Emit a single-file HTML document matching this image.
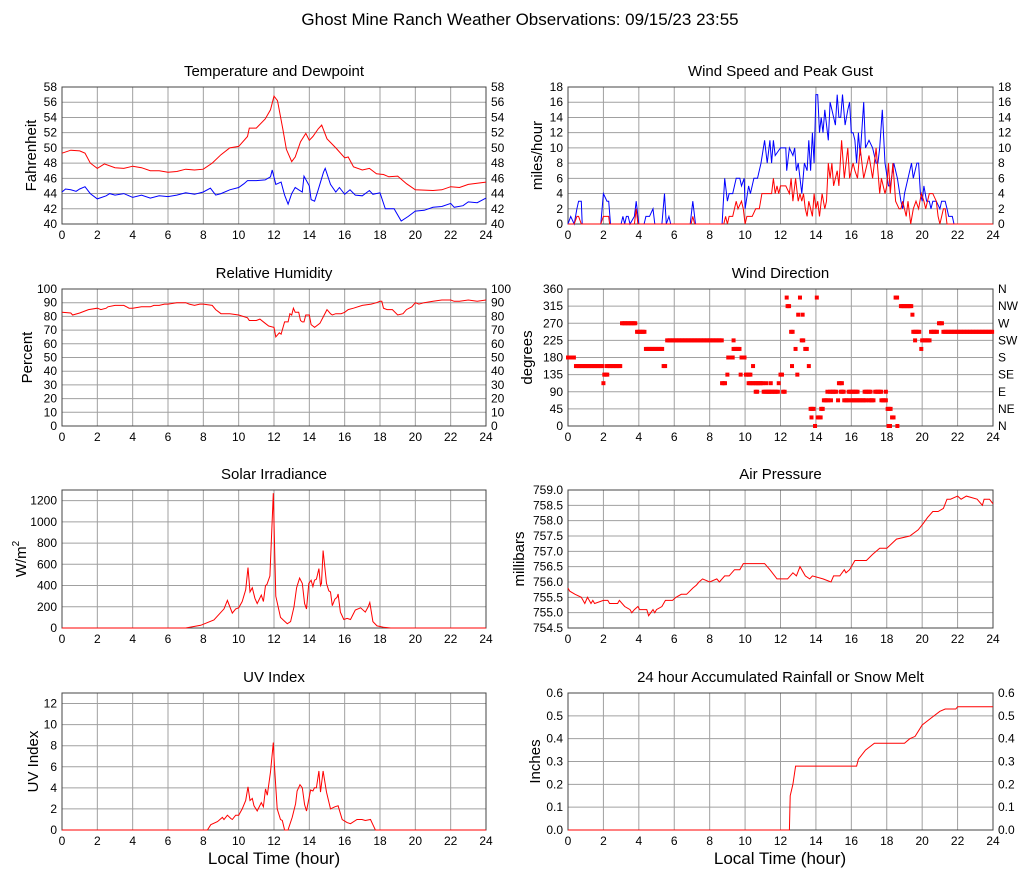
<!DOCTYPE html>
<html><head><meta charset="utf-8"><title>Ghost Mine Ranch Weather</title>
<style>
body{margin:0;background:#fff;}
svg{display:block;font-family:"Liberation Sans",sans-serif;}
</style></head>
<body>
<svg id="chart" width="1027" height="878" viewBox="0 0 1027 878" xmlns="http://www.w3.org/2000/svg">
<rect x="0" y="0" width="1027" height="878" fill="#fff"/>
<text x="520" y="25" font-size="17" text-anchor="middle" fill="#000">Ghost Mine Ranch Weather Observations: 09/15/23 23:55</text>
<text x="274" y="864" font-size="17" text-anchor="middle" fill="#000">Local Time (hour)</text>
<text x="780" y="864" font-size="17" text-anchor="middle" fill="#000">Local Time (hour)</text>
</svg>
<script>
// ---------- data ----------
const hourTicks = [0,2,4,6,8,10,12,14,16,18,20,22,24];

const tempTimes = [0,0.5,1,1.3,1.6,2,2.4,3,3.5,4,4.5,5,5.5,6,6.5,7,7.5,8,8.5,9,9.5,10,10.5,10.6,11,11.5,11.8,12,12.2,12.5,12.7,13,13.2,13.5,13.8,14,14.2,14.5,14.7,15,15.5,16,16.2,16.5,17,17.4,17.8,18.2,18.5,19,19.5,20,21,21.5,22,22.5,23,24];
const tempValues = [49.3,49.7,49.6,49.3,48.0,47.3,47.9,47.4,47.3,47.6,47.4,47.0,47.0,46.8,46.9,47.2,47.1,47.2,48.0,49.1,50.0,50.2,51.5,52.6,52.6,53.8,55.0,56.8,56.2,52.5,49.8,48.2,48.8,50.8,51.9,51.0,51.5,52.5,53.0,51.2,50.0,48.7,48.8,47.5,47.1,47.3,46.6,46.5,46.2,46.3,45.3,44.5,44.4,44.5,44.9,44.8,45.2,45.5];
const dewTimes = [0,0.2,0.5,0.8,1,1.3,1.6,2,2.5,2.7,3,3.5,4,4.5,5,5.5,6,6.5,7,7.5,8,8.4,8.7,9,9.5,10,10.3,10.5,11,11.5,11.8,11.9,12.1,12.4,12.6,12.8,13,13.2,13.4,13.6,13.7,14,14.1,14.3,14.5,14.8,14.9,15.2,15.5,15.7,16,16.3,16.6,17,17.4,17.6,18,18.3,18.8,19.2,19.6,20,20.5,21,21.5,22,22.2,22.7,23,23.5,24];
const dewValues = [44.2,44.6,44.5,44.3,44.6,44.9,44.0,43.3,43.7,44.0,43.8,44.0,43.5,43.8,43.4,43.7,43.6,43.8,44.1,43.9,44.2,44.7,43.8,44.0,44.5,44.8,45.3,45.7,45.7,45.8,46.2,47.1,45.2,45.5,43.8,42.6,44.0,44.8,44.5,44.2,46.3,45.0,43.2,43.0,44.5,46.8,47.3,45.2,44.2,44.8,43.9,44.5,43.8,43.7,44.4,43.9,44.1,42.0,42.0,40.4,41.0,41.7,41.8,42.2,42.3,42.7,42.2,42.4,42.9,42.8,43.4];

const gustTimes = [0,0.15,0.35,0.5,0.6,0.75,0.8,1.85,2,2.2,2.3,2.4,3,3.1,3.2,3.3,3.4,3.5,3.75,3.85,4,4.3,4.4,4.6,4.8,4.9,5.3,5.45,5.55,5.7,5.8,6.9,7.05,7.2,8.7,8.85,9.0,9.1,9.3,9.5,9.7,9.8,9.95,10,10.2,10.3,10.5,10.7,10.9,11.1,11.25,11.4,11.5,11.6,11.7,12,12.3,12.35,12.5,12.7,12.8,12.9,13.0,13.1,13.2,13.35,13.5,13.6,13.7,13.8,13.9,14.0,14.1,14.2,14.3,14.4,14.5,14.7,14.8,14.9,15.1,15.2,15.3,15.4,15.5,15.65,15.8,15.9,16,16.1,16.2,16.3,16.4,16.5,16.7,16.8,17,17.2,17.4,17.5,17.6,17.75,17.9,18.1,18.2,18.4,18.6,18.8,18.9,19.0,19.2,19.4,19.5,19.7,19.8,19.9,20,20.1,20.25,20.4,20.5,20.6,20.8,21,21.1,21.3,21.4,21.5,21.7,21.8,24];
const gustValues = [0,1,0,2,3,3,0,0,4,3,3,0,0,1,0,1,1,0,1,3,0,0,1,1,2,0,0,4,0,1,0,0,3,0,0,6,3,4,4,6,6,5,6,2,5,4,6,6,8,11,8,11,8,11,9,10,10,7,10,9,10,7,8,6,4,8,7,11,7,12,8,17,17,12,14,12,15,11,16,15,13,17,14,14,17,13,15,16,12,12,11,8,12,9,16,10,11,10,8,8,10,15,8,5,5,8,6,3,2,4,6,8,6,8,8,4,3,5,3,3,2,3,3,2,3,3,2,1,1,0,0];
const speedTimes = [0,0.35,0.5,0.6,0.75,1.85,2,2.3,2.35,3.75,3.85,3.95,6.95,7.05,7.15,8.8,8.9,9.0,9.1,9.3,9.5,9.6,9.8,9.9,10,10.1,10.4,10.6,10.8,10.95,11.5,11.6,11.7,11.8,11.9,12,12.3,12.5,12.6,12.7,12.85,12.9,13.0,13.1,13.2,13.3,13.4,13.5,13.6,13.7,13.8,13.9,14,14.1,14.2,14.35,14.5,14.6,14.7,14.8,14.9,15.0,15.2,15.3,15.45,15.6,15.8,15.9,16.1,16.2,16.35,16.5,16.7,16.9,17,17.2,17.4,17.5,17.6,17.7,17.9,18,18.1,18.2,18.35,18.5,18.7,18.8,18.9,19.1,19.2,19.35,19.5,19.65,19.8,19.95,20.1,20.2,20.4,20.6,20.8,20.9,21,21.2,21.3,21.4,24];
const speedValues = [0,0,1,1,0,0,1,1,0,0,2,0,0,1,0,0,1,0,1,1,3,2,3,2,0,1,1,2,2,4,4,6,4,5,4,5,5,4,6,3,6,5,3,4,3,4,2,1,3,2,1,4,2,3,1,4,2,3,8,6,8,5,7,5,11,6,10,6,8,7,6,10,6,8,9,6,10,7,4,6,4,5,8,4,8,3,2,2,3,1,3,0,2,3,2,4,3,2,4,4,3,1,0,2,2,0,0];

const dirRunStart = [0,0.45,2.0,2.05,2.2,3.05,3.9,4.4,5.4,5.6,8.7,9.0,9.05,9.35,9.35,9.75,9.8,10.05,10.2,10.45,10.6,10.75,11.05,11.2,11.35,11.45,11.9,12.0,12.15,12.35,12.4,12.6,12.65,12.85,12.95,13.0,13.1,13.2,13.25,13.4,13.6,13.7,13.75,13.95,14.05,14.1,14.3,14.45,14.65,14.8,14.85,15.25,15.3,15.4,15.6,15.85,16.0,16.75,17.0,17.35,17.7,17.95,18.05,18.1,18.3,18.5,18.6,18.8,19.45,19.5,19.6,19.95,20.0,20.5,20.95,21.2];
const dirRunEnd   = [0.35,1.95,2.0,2.25,3.0,3.85,4.35,5.35,5.55,8.7,8.9,9.0,9.3,9.35,9.7,9.75,10.0,10.3,10.7,10.45,10.75,11.0,11.3,11.2,11.9,11.45,11.9,12.15,12.3,12.35,12.55,12.75,12.65,12.85,12.95,13.0,13.1,13.35,13.25,13.55,13.6,13.9,13.75,14.0,14.05,14.3,14.45,14.7,14.65,15.2,14.85,15.25,15.5,15.6,15.85,16.4,16.9,17.1,17.3,17.7,17.95,17.95,18.25,18.2,18.4,18.6,18.65,19.4,19.45,19.85,19.6,19.95,20.45,20.85,21.15,24];
const dirRunValue = [180,157.5,112.5,135,157.5,270,247.5,202.5,157.5,225,112.5,135,180,225,202.5,135,180,135,112.5,157.5,90,112.5,90,112.5,90,112.5,112.5,135,90,337.5,315,247.5,157.5,202.5,135,292.5,337.5,225,292.5,202.5,157.5,45,22.5,0,337.5,22.5,45,67.5,90,90,67.5,67.5,112.5,90,67.5,90,67.5,90,67.5,90,67.5,90,45,0,22.5,337.5,0,315,292.5,247.5,225,202.5,225,247.5,270,247.5];

const rhTimes = [0,0.5,0.6,1,1.5,2,2.2,2.5,2.6,3,3.5,3.8,4,4.5,5,5.2,5.5,5.8,6,6.5,7,7.2,7.5,7.8,8,8.5,8.7,9,9.5,10,10.5,10.6,11,11.2,11.5,11.7,12,12.1,12.3,12.4,12.6,12.8,12.9,13.0,13.1,13.2,13.4,13.5,13.6,13.7,13.8,14.0,14.1,14.3,14.6,14.8,15,15.2,15.3,15.5,15.8,16,16.2,16.5,17,17.5,17.8,18,18.1,18.2,18.4,18.7,19,19.3,19.5,19.8,20,20.2,20.5,21,21.5,22,22.2,22.5,23,23.5,24];
const rhValues = [83,82.5,81,82.5,85,86,85,86,87,88,88,86,86,87,87,88,88,89,89,90,90,89,88,89,89,88,85,82,82,81,79,77,77,78,75,73,72,65,68,67,76,76,82,81,86,83,83,77,76,76,81,81,74,72,75,80,85,82,81,82,82,83,85,86,88,89,90,91,91,86,85,85,81,82,85,87,90,89,90,91,92,92,91,91,92,91,92];

const solarTimes = [0,7.0,7.85,8.6,9.17,9.36,9.64,9.83,10.0,10.2,10.4,10.53,10.64,10.77,10.92,11.05,11.28,11.4,11.52,11.6,11.77,11.96,12.03,12.1,12.37,12.56,12.75,12.94,13.13,13.28,13.45,13.6,13.73,13.84,13.97,14.1,14.2,14.29,14.4,14.54,14.63,14.69,14.78,14.97,15.1,15.2,15.3,15.44,15.57,15.63,15.76,15.95,16.14,16.33,16.6,16.9,17.17,17.33,17.42,17.6,17.83,18.2,18.6,24];
const solarValues = [0,0,25,75,180,260,140,180,190,250,360,570,340,380,280,230,310,250,400,410,490,1270,800,300,100,70,40,60,200,380,470,420,230,180,420,450,390,450,460,560,400,420,730,420,350,340,210,270,290,320,150,80,90,80,170,190,150,200,240,60,20,8,0,0];

const uvTimes = [0,8.23,8.42,8.8,9.08,9.17,9.36,9.55,9.64,9.83,10.0,10.2,10.4,10.53,10.64,10.77,10.87,11.05,11.28,11.4,11.52,11.62,11.8,11.96,12.03,12.18,12.37,12.47,12.6,12.79,13.03,13.22,13.31,13.47,13.6,13.73,13.84,14.07,14.2,14.29,14.4,14.54,14.63,14.78,14.97,15.2,15.44,15.63,15.86,16.14,16.33,16.7,16.98,17.17,17.46,17.6,17.74,24];
const uvValues = [0,0,0.5,0.8,1.2,1.0,1.4,1.1,1.0,1.4,1.4,2.0,2.8,4.1,2.8,3.0,2.3,1.8,2.6,2.2,3.9,3.3,5.5,8.3,6.0,2.0,1.0,0.9,0,0,1.2,2.5,3.7,4.3,4.0,2.4,1.8,3.8,3.7,4.0,4.0,5.6,3.6,5.6,3.6,2.0,2.2,2.3,1.0,0.7,0.6,1.0,1.0,0.9,1.0,0.5,0,0];

const presTimes = [0,0.1,0.4,0.75,0.95,1.1,1.3,1.4,1.5,2.0,2.25,2.35,2.8,2.9,3.2,3.5,3.6,3.75,3.95,4.05,4.45,4.55,4.8,4.9,5.0,5.3,5.5,5.9,6.1,6.4,6.7,7.05,7.25,7.4,7.6,8.0,8.4,8.55,8.85,9.1,9.4,9.7,9.9,10.3,11.1,11.4,11.8,12.4,12.7,12.9,13.1,13.4,13.65,13.8,14.4,14.85,15.0,15.35,15.6,15.7,15.9,16.2,16.85,17.2,17.6,17.9,18.0,18.55,19.3,19.77,20.05,20.3,20.6,20.9,21.2,21.4,21.6,22.0,22.2,22.5,23.1,23.4,23.5,23.8,24];
const presValues = [755.8,755.7,755.6,755.5,755.3,755.5,755.3,755.4,755.3,755.4,755.4,755.3,755.3,755.4,755.2,755.1,755.0,755.1,755.2,755.1,755.1,754.9,755.1,755.0,755.1,755.2,755.4,755.4,755.5,755.6,755.6,755.8,755.9,756.0,756.1,756.0,756.1,756.0,756.2,756.2,756.4,756.4,756.6,756.6,756.6,756.4,756.1,756.1,756.3,756.2,756.5,756.2,756.1,756.2,756.1,756.0,756.2,756.2,756.4,756.3,756.4,756.7,756.7,756.9,757.1,757.1,757.1,757.4,757.5,757.7,757.9,758.1,758.3,758.3,758.4,758.7,758.7,758.8,758.7,758.8,758.7,758.5,758.7,758.7,758.55];

const rainTimes = [0,12.5,12.55,12.7,12.85,16.3,16.4,16.8,17.3,19.0,19.3,19.6,20.0,20.5,21.0,21.3,21.9,22.0,24];
const rainValues = [0,0,0.15,0.2,0.28,0.28,0.31,0.35,0.38,0.38,0.40,0.41,0.46,0.49,0.52,0.53,0.53,0.54,0.54];

const tempTicks = [40,42,44,46,48,50,52,54,56,58];
const windTicks = [0,2,4,6,8,10,12,14,16,18];
const rhTicks = [0,10,20,30,40,50,60,70,80,90,100];
const dirTicks = [0,45,90,135,180,225,270,315,360];
const dirLabels = ['N','NE','E','SE','S','SW','W','NW','N'];
const solarTicks = [0,200,400,600,800,1000,1200];
const presTicks = [754.5,755.0,755.5,756.0,756.5,757.0,757.5,758.0,758.5,759.0];
const uvTicks = [0,2,4,6,8,10,12];
const rainTicks = [0,0.1,0.2,0.3,0.4,0.5,0.6];

// ---------- drawing ----------
const NS = 'http://www.w3.org/2000/svg';
const svg = document.getElementById('chart');
function mk(tag, attrs, parent){
  const e = document.createElementNS(NS, tag);
  for (const k in attrs) e.setAttribute(k, attrs[k]);
  (parent||svg).appendChild(e);
  return e;
}
function panel(p){
  const g = mk('g', {});
  
  
  const sx = h => p.x0 + (h/24)*(p.x1 - p.x0);
  const sy = v => p.y1 - (v - p.min)/(p.max - p.min)*(p.y1 - p.y0);
  // grid
  p.ticks.forEach(t => {
    const l = mk('line', {x1:p.x0, x2:p.x1, y1:sy(t), y2:sy(t), stroke:'#a0a0a0', 'stroke-width':1}, g);
    
    
    const lab = mk('text', {x:p.x0-5, y:sy(t)+4, 'font-size':12, 'text-anchor':'end', fill:'#000'}, g);
    
    
    lab.textContent = p.fmt ? p.fmt(t) : String(t);
  });
  if (p.right) p.ticks.forEach((t,i) => {
    const lab = mk('text', {x:p.x1+5, y:sy(t)+4, 'font-size':12, 'text-anchor':'start', fill:'#000'}, g);
    
    
    lab.textContent = p.rightLabels ? p.rightLabels[i] : (p.fmt ? p.fmt(t) : String(t));
  });
  hourTicks.forEach(h => {
    const l = mk('line', {x1:sx(h), x2:sx(h), y1:p.y0, y2:p.y1, stroke:'#a0a0a0', 'stroke-width':1}, g);
    
    
    const lab = mk('text', {x:sx(h), y:p.y1+15, 'font-size':12, 'text-anchor':'middle', fill:'#000'}, g);
    
    
    lab.textContent = String(h);
  });
  const b = mk('rect', {x:p.x0, y:p.y0, width:p.x1-p.x0, height:p.y1-p.y0, fill:'none', stroke:'#444', 'stroke-width':1}, g);
  
  
  const t = mk('text', {x:(p.x0+p.x1)/2, y:p.y0-11, 'font-size':15, 'text-anchor':'middle', fill:'#000'}, g);
  
  
  t.textContent = p.title;
  const yt = mk('text', {x:p.ytx, y:(p.y0+p.y1)/2, 'font-size':15, 'text-anchor':'middle', fill:'#000', transform:'rotate(-90 '+p.ytx+' '+(p.y0+p.y1)/2+')'}, g);
  
  
  if (p.ytHTML) { yt.innerHTML = p.ytHTML; } else yt.textContent = p.ytitle;
  (p.series||[]).forEach(s => {
    const d = s.t.map((h,i) => (i?'L':'M') + sx(h).toFixed(1) + ',' + sy(s.v[i]).toFixed(1)).join('');
    const path = mk('path', {d:d, fill:'none', stroke:s.color, 'stroke-width':1}, g);
    
    
  });
  return {g, sx, sy};
}

const L = {x0:62, x1:486}, R = {x0:568, x1:993};
panel({name:'temperature', title:'Temperature and Dewpoint', ...L, y0:87, y1:224, min:40, max:58, ticks:tempTicks, right:true, ytx:36, ytitle:'Fahrenheit',
  series:[{name:'temperature-line', t:tempTimes, v:tempValues, color:'#ff0000'},{name:'dewpoint-line', t:dewTimes, v:dewValues, color:'#0000ff'}]});
panel({name:'wind-speed', title:'Wind Speed and Peak Gust', ...R, y0:87, y1:224, min:0, max:18, ticks:windTicks, right:true, ytx:542, ytitle:'miles/hour',
  series:[{name:'gust-line', t:gustTimes, v:gustValues, color:'#0000ff'},{name:'speed-line', t:speedTimes, v:speedValues, color:'#ff0000'}]});
panel({name:'humidity', title:'Relative Humidity', ...L, y0:289, y1:426, min:0, max:100, ticks:rhTicks, right:true, ytx:32, ytitle:'Percent',
  series:[{name:'humidity-line', t:rhTimes, v:rhValues, color:'#ff0000'}]});
const wd = panel({name:'wind-direction', title:'Wind Direction', ...R, y0:289, y1:426, min:0, max:360, ticks:dirTicks, right:true, rightLabels:dirLabels, ytx:532, ytitle:'degrees'});
dirRunStart.forEach((s,i) => {
  for (let h = s; h <= dirRunEnd[i] + 1e-6; h += 1/12) {
    const r = mk('rect', {x:wd.sx(h)-2, y:wd.sy(dirRunValue[i])-2, width:4, height:4, fill:'#ff0000'}, wd.g);
    
    
  }
});
panel({name:'solar', title:'Solar Irradiance', ...L, y0:490, y1:628, min:0, max:1300, ticks:solarTicks, right:false, ytx:26,
  ytHTML:'W/m<tspan font-size="10" dy="-7">2</tspan>',
  series:[{name:'solar-line', t:solarTimes, v:solarValues, color:'#ff0000'}]});
panel({name:'pressure', title:'Air Pressure', ...R, y0:490, y1:628, min:754.5, max:759, ticks:presTicks, right:false, ytx:524, ytitle:'millibars', fmt:v=>v.toFixed(1),
  series:[{name:'pressure-line', t:presTimes, v:presValues, color:'#ff0000'}]});
panel({name:'uv', title:'UV Index', ...L, y0:693, y1:830, min:0, max:13, ticks:uvTicks, right:false, ytx:38, ytitle:'UV Index',
  series:[{name:'uv-line', t:uvTimes, v:uvValues, color:'#ff0000'}]});
panel({name:'rainfall', title:'24 hour Accumulated Rainfall or Snow Melt', ...R, y0:693, y1:830, min:0, max:0.6, ticks:rainTicks, right:true, ytx:540, ytitle:'Inches', fmt:v=>v.toFixed(1),
  series:[{name:'rainfall-line', t:rainTimes, v:rainValues, color:'#ff0000'}]});
</script>
</body></html>
